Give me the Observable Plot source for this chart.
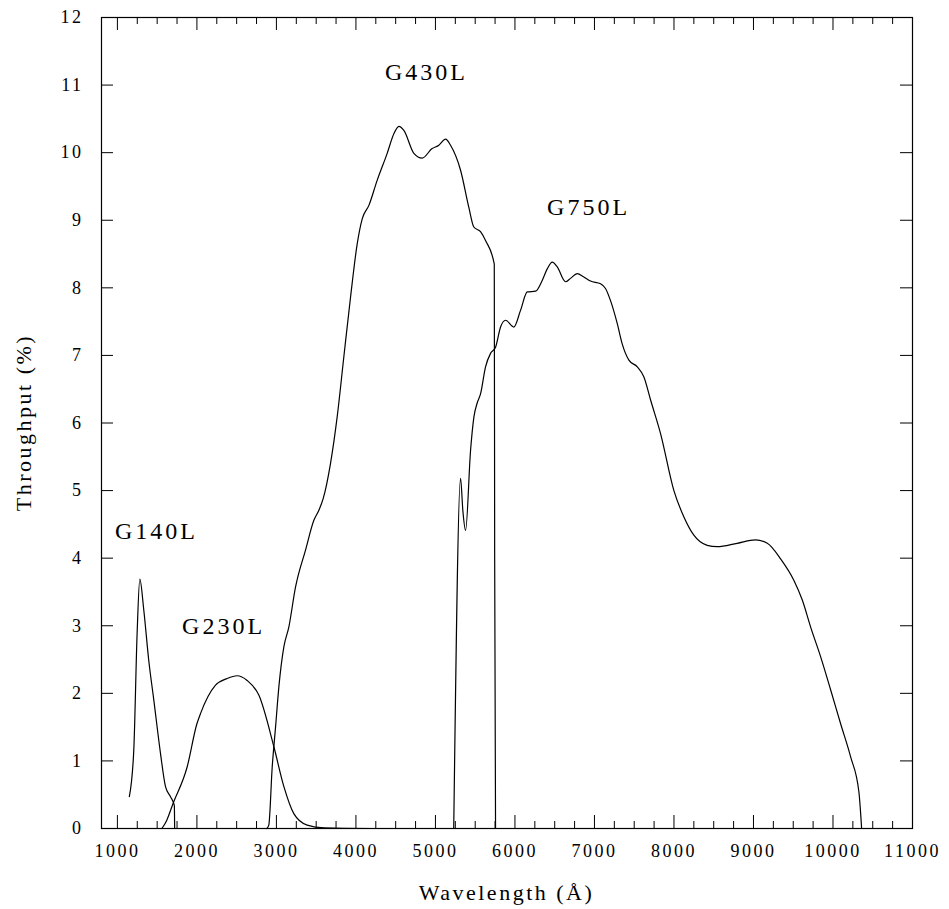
<!DOCTYPE html>
<html>
<head>
<meta charset="utf-8">
<script src="https://cdn.jsdelivr.net/npm/d3@7"></script>
<script src="https://cdn.jsdelivr.net/npm/@observablehq/plot@0.6"></script>
<style>
  html, body { margin: 0; padding: 0; background: #fff; }
</style>
</head>
<body>
<div id="chart"></div>
<script>
// ---- Data (wavelength Å, throughput %) ----
const g140L = [
  [1150, 0.47], [1206, 1.16], [1248, 2.89], [1282, 3.69], [1332, 3.23],
  [1394, 2.49], [1458, 1.90], [1541, 1.12], [1605, 0.62], [1668, 0.47],
  [1716, 0.34], [1720, 0]
];
const g230L = [
  [1560, 0], [1620, 0.12], [1700, 0.37], [1877, 0.91], [2000, 1.55], [2045, 1.70],
  [2234, 2.12], [2381, 2.22], [2506, 2.26], [2632, 2.19], [2780, 1.97],
  [2968, 1.21], [3094, 0.62], [3219, 0.22], [3387, 0.05], [3600, 0.01], [4200, 0.0]
];
const g430L = [
  [2880, 0], [2904, 0.05], [2947, 0.91], [2989, 1.50], [3031, 2.10], [3094, 2.69],
  [3156, 2.98], [3240, 3.57], [3366, 4.12], [3471, 4.56], [3534, 4.71],
  [3588, 4.88], [3680, 5.40], [3764, 6.09], [3848, 6.98], [3932, 7.86],
  [4016, 8.65], [4079, 9.02], [4163, 9.22], [4267, 9.59], [4393, 9.99],
  [4477, 10.28], [4540, 10.39], [4603, 10.33], [4729, 9.99], [4833, 9.92],
  [4958, 10.06], [5043, 10.11], [5127, 10.20], [5190, 10.11], [5316, 9.74],
  [5420, 9.19], [5483, 8.90], [5567, 8.83], [5630, 8.70], [5740, 8.35],
  [5745, 4.0], [5756, 0]
];
const g750L = [
  [5230, 0], [5316, 5.18], [5345, 4.70], [5379, 4.41], [5442, 5.60],
  [5484, 6.09], [5526, 6.30], [5567, 6.43], [5630, 6.83], [5693, 7.03],
  [5756, 7.12], [5819, 7.42], [5882, 7.52], [5986, 7.42], [6071, 7.67],
  [6155, 7.94], [6259, 7.95], [6343, 8.11], [6406, 8.28], [6469, 8.38],
  [6532, 8.31], [6636, 8.09], [6699, 8.14], [6783, 8.21], [6866, 8.16],
  [6950, 8.10], [7077, 8.06], [7139, 7.99], [7202, 7.81], [7287, 7.47],
  [7349, 7.17], [7433, 6.93], [7539, 6.83], [7622, 6.68], [7706, 6.34],
  [7832, 5.84], [7999, 5.00], [8125, 4.61], [8250, 4.34], [8418, 4.19],
  [8544, 4.17], [8795, 4.22], [9026, 4.27], [9174, 4.22], [9341, 3.99],
  [9509, 3.67], [9614, 3.38], [9719, 2.98], [9845, 2.54], [9971, 2.05],
  [10096, 1.55], [10222, 1.06], [10326, 0.54], [10352, 0.15], [10360, 0]
];
const seriesNames = ["G140L", "G230L", "G430L", "G750L"];
const labelX = [1492, 2335, 4888, 6926];
const labelY = [4.40, 2.99, 11.19, 9.19];

const xDomain = [800, 11000];
const yDomain = [0, 12];
const xMajor = d3.range(1000, 11001, 1000);
const xMinor = d3.range(1000, 11001, 250).filter(v => v % 1000 !== 0);
const yMajor = d3.range(0, 13, 1);

// ---- Build table ----
const allSeries = [g140L, g230L, g430L, g750L];
const rows = allSeries.flatMap((s, i) => s.map(([w, t]) => ({series: seriesNames[i], w, t})));
const labels = seriesNames.map((name, i) => ({name, x: labelX[i], y: labelY[i]}));

const W = 949, H = 909;
const mL = 101, mR = 37, mT = 17, mB = 81;
const plotW = W - mL - mR, plotH = H - mT - mB;
const majLen = 13, minLen = 7, yLen = 12;
const serif = "Liberation Serif, serif";

const chart = Plot.plot({
  width: W, height: H,
  marginLeft: mL, marginRight: mR, marginTop: mT, marginBottom: mB,
  style: {background: "#fff", color: "#000", fontFamily: serif, letterSpacing: "2.5px"},
  x: {domain: xDomain},
  y: {domain: yDomain},
  marks: [
    Plot.frame({stroke: "#000", strokeWidth: 1.2}),
    // bottom ticks (inward)
    Plot.ruleX(xMajor, {stroke: "#000", insetTop: plotH - majLen}),
    Plot.ruleX(xMinor, {stroke: "#000", insetTop: plotH - minLen}),
    // top ticks (inward)
    Plot.ruleX(xMajor, {stroke: "#000", insetBottom: plotH - majLen}),
    Plot.ruleX(xMinor, {stroke: "#000", insetBottom: plotH - minLen}),
    // left & right ticks (inward)
    Plot.ruleY(yMajor, {stroke: "#000", insetRight: plotW - yLen}),
    Plot.ruleY(yMajor, {stroke: "#000", insetLeft: plotW - yLen}),
    Plot.axisX(xMajor, {
      anchor: "bottom", tickSize: 0, tickPadding: 16, fontSize: 18,
      tickFormat: d => String(d), label: null, fontFamily: serif
    }),
    Plot.axisY(yMajor, {
      anchor: "left", tickSize: 0, tickPadding: 18, fontSize: 18,
      tickFormat: d => String(d), label: null, fontFamily: serif
    }),
    Plot.line(rows, {
      x: "w", y: "t", z: "series", stroke: "#000", strokeWidth: 1.2,
      curve: "monotone-x"
    }),
    Plot.text(labels, {
      x: "x", y: "y", text: "name", fontSize: 24, fontFamily: serif,
      fill: "#000", textAnchor: "middle"
    })
  ]
});

const svg = d3.select(chart);
svg.attr("letter-spacing", "2.5px");
svg.selectAll("text").attr("letter-spacing", "2.5px");
svg.selectAll("g[aria-label='text'] text").attr("letter-spacing", "3px");

// Axis titles as real SVG text
svg.append("text")
  .attr("x", mL + plotW / 2).attr("y", 900)
  .attr("text-anchor", "middle")
  .attr("font-family", serif)
  .attr("font-size", 22)
  .attr("letter-spacing", "2.5px")
  .attr("fill", "#000")
  .text("Wavelength (Å)");
svg.append("text")
  .attr("transform", `translate(31, ${mT + plotH / 2}) rotate(-90)`)
  .attr("text-anchor", "middle")
  .attr("font-family", serif)
  .attr("font-size", 22)
  .attr("letter-spacing", "2.5px")
  .attr("fill", "#000")
  .text("Throughput (%)");

document.getElementById("chart").appendChild(chart);
</script>
</body>
</html>
